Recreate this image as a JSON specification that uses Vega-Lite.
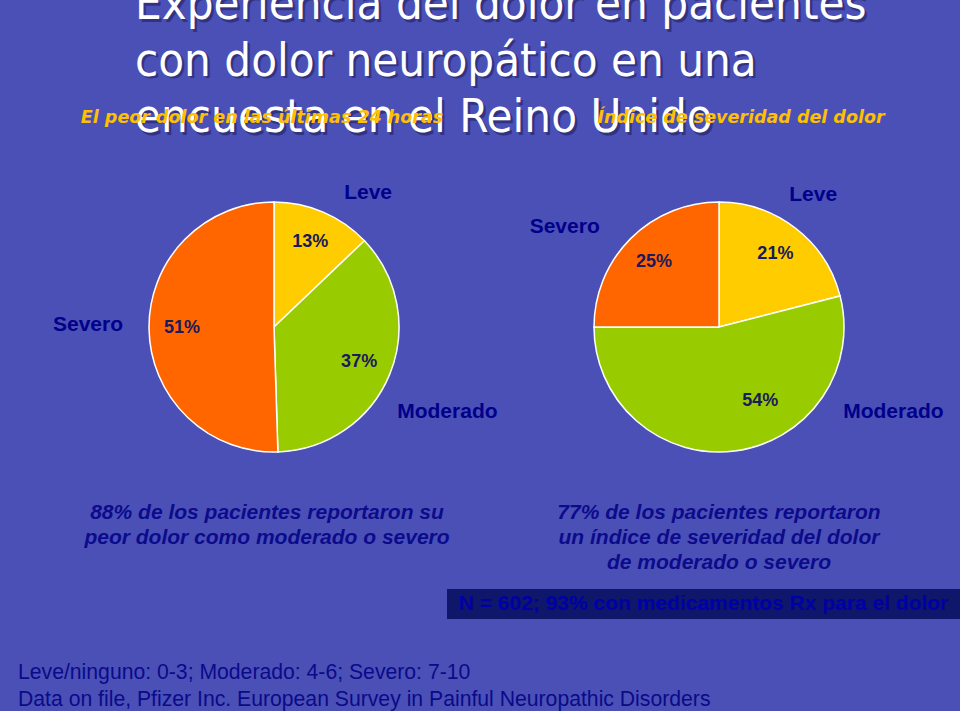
{
  "$schema": "https://vega.github.io/schema/vega-lite/v6.json",
  "background": "#4b50b6",
  "padding": {"top": -198, "left": 0, "right": 0, "bottom": 0},
  "config": {"view": {"stroke": null}},
  "datasets": {
    "peor": [
      {"nivel": "Leve", "valor": 0.13, "orden": 1},
      {"nivel": "Moderado", "valor": 0.37, "orden": 2},
      {"nivel": "Severo", "valor": 0.51, "orden": 3}
    ],
    "indice": [
      {"nivel": "Leve", "valor": 0.21, "orden": 1},
      {"nivel": "Moderado", "valor": 0.54, "orden": 2},
      {"nivel": "Severo", "valor": 0.25, "orden": 3}
    ],
    "titulo": [{"texto": "Experiencia del dolor en pacientes\ncon dolor neuropático en una\nencuesta en el Reino Unido"}],
    "notaL": [{"texto": "88% de los pacientes reportaron su\npeor dolor como moderado o severo"}],
    "notaR": [{"texto": "77% de los pacientes reportaron\nun índice de severidad del dolor\nde moderado o severo"}],
    "caja": [{"texto": "N = 602; 93% con medicamentos Rx para el dolor"}],
    "vacio": [{}]
  },
  "title": {
    "text": ["Leve/ninguno: 0-3; Moderado: 4-6; Severo: 7-10", "Data on file, Pfizer Inc. European Survey in Painful Neuropathic Disorders"],
    "orient": "bottom", "anchor": "start", "frame": "bounds", "dx": 18, "offset": 43,
    "baseline": "top", "font": "Liberation Sans", "fontSize": 21.2, "fontWeight": "normal",
    "color": "#0a0a8a", "lineHeight": 27
  },
  "columns": 2,
  "bounds": "flush",
  "spacing": 0,
  "concat": [
    {
      "width": 270, "height": 360,
      "data": {"name": "titulo"},
      "layer": [
        {"mark": {"type": "text", "align": "left", "baseline": "top", "font": "DejaVu Sans Condensed, DejaVu Sans", "fontSize": 47, "lineHeight": 56.5, "lineBreak": "\n", "color": "#1c1c55", "opacity": 0.55, "dx": 2.5, "dy": 2.5},
         "encoding": {"text": {"field": "texto"}}},
        {"mark": {"type": "text", "align": "left", "baseline": "top", "font": "DejaVu Sans Condensed, DejaVu Sans", "fontSize": 47, "lineHeight": 56.5, "lineBreak": "\n", "color": "#ffffff"},
         "encoding": {"text": {"field": "texto"}}}
      ]
    },
    {
      "width": 10, "height": 360,
      "data": {"name": "vacio"},
      "mark": {"type": "text", "text": ""}
    },
    {
      "width": 548, "height": 330,
      "data": {"name": "peor"},
      "title": {"text": "El peor dolor en las últimas 24 horas", "anchor": "middle", "frame": "group", "dx": -12, "offset": 22, "baseline": "alphabetic", "color": "#FFC000", "font": "DejaVu Sans", "fontSize": 17.5, "fontStyle": "italic", "fontWeight": "bold"},
      "layer": [
        {"mark": {"type": "arc", "outerRadius": 125, "stroke": "#ffffff", "strokeWidth": 1.5},
         "encoding": {
           "theta": {"field": "valor", "type": "quantitative", "stack": true},
           "order": {"field": "orden", "type": "quantitative"},
           "color": {"field": "nivel", "type": "nominal", "scale": {"domain": ["Leve", "Moderado", "Severo"], "range": ["#FFCC00", "#99CC00", "#FF6600"]}, "legend": null}
         }},
        {"mark": {"type": "text", "radius": 92, "font": "Liberation Sans", "fontSize": 18, "fontWeight": "bold", "color": "#1a1a5c"},
         "encoding": {
           "theta": {"field": "valor", "type": "quantitative", "stack": true},
           "order": {"field": "orden", "type": "quantitative"},
           "detail": {"field": "nivel"},
           "text": {"field": "valor", "type": "quantitative", "format": ".0%"}
         }},
        {"transform": [{"stack": "valor", "groupby": [], "sort": [{"field": "orden", "order": "ascending"}], "as": ["ini", "fin"]}, {"filter": {"field": "nivel", "equal": "Leve"}}],
         "mark": {"type": "text", "radius": 164, "thetaOffset": 0.611, "font": "Liberation Sans", "fontSize": 21, "fontWeight": "bold", "color": "#00008b"},
         "encoding": {"theta": {"field": "ini", "type": "quantitative", "stack": null}, "text": {"field": "nivel"}}},
        {"transform": [{"stack": "valor", "groupby": [], "sort": [{"field": "orden", "order": "ascending"}], "as": ["ini", "fin"]}, {"filter": {"field": "nivel", "equal": "Moderado"}}],
         "mark": {"type": "text", "radius": 193, "thetaOffset": 1.217, "font": "Liberation Sans", "fontSize": 21, "fontWeight": "bold", "color": "#00008b"},
         "encoding": {"theta": {"field": "ini", "type": "quantitative", "stack": null}, "text": {"field": "nivel"}}},
        {"transform": [{"stack": "valor", "groupby": [], "sort": [{"field": "orden", "order": "ascending"}], "as": ["ini", "fin"]}, {"filter": {"field": "nivel", "equal": "Severo"}}],
         "mark": {"type": "text", "radius": 186, "thetaOffset": 1.613, "font": "Liberation Sans", "fontSize": 21, "fontWeight": "bold", "color": "#00008b"},
         "encoding": {"theta": {"field": "ini", "type": "quantitative", "stack": null}, "text": {"field": "nivel"}}}
      ]
    },
    {
      "width": 342, "height": 330,
      "data": {"name": "indice"},
      "title": {"text": "Índice de severidad del dolor", "anchor": "middle", "frame": "group", "dx": 22, "offset": 22, "baseline": "alphabetic", "color": "#FFC000", "font": "DejaVu Sans", "fontSize": 17.5, "fontStyle": "italic", "fontWeight": "bold"},
      "layer": [
        {"mark": {"type": "arc", "outerRadius": 125, "stroke": "#ffffff", "strokeWidth": 1.5},
         "encoding": {
           "theta": {"field": "valor", "type": "quantitative", "stack": true},
           "order": {"field": "orden", "type": "quantitative"},
           "color": {"field": "nivel", "type": "nominal", "scale": {"domain": ["Leve", "Moderado", "Severo"], "range": ["#FFCC00", "#99CC00", "#FF6600"]}, "legend": null}
         }},
        {"mark": {"type": "text", "radius": 92, "font": "Liberation Sans", "fontSize": 18, "fontWeight": "bold", "color": "#1a1a5c"},
         "encoding": {
           "theta": {"field": "valor", "type": "quantitative", "stack": true},
           "order": {"field": "orden", "type": "quantitative"},
           "detail": {"field": "nivel"},
           "text": {"field": "valor", "type": "quantitative", "format": ".0%"},
           "opacity": {"condition": {"test": "datum.nivel === 'Moderado'", "value": 0}, "value": 1}
         }},
        {"transform": [{"stack": "valor", "groupby": [], "sort": [{"field": "orden", "order": "ascending"}], "as": ["ini", "fin"]}, {"filter": {"field": "nivel", "equal": "Moderado"}}],
         "mark": {"type": "text", "radius": 85, "thetaOffset": 1.316, "font": "Liberation Sans", "fontSize": 18, "fontWeight": "bold", "color": "#1a1a5c"},
         "encoding": {"theta": {"field": "ini", "type": "quantitative", "stack": null}, "text": {"field": "valor", "type": "quantitative", "format": ".0%"}}},
        {"transform": [{"stack": "valor", "groupby": [], "sort": [{"field": "orden", "order": "ascending"}], "as": ["ini", "fin"]}, {"filter": {"field": "nivel", "equal": "Leve"}}],
         "mark": {"type": "text", "radius": 162, "thetaOffset": 0.62, "font": "Liberation Sans", "fontSize": 21, "fontWeight": "bold", "color": "#00008b"},
         "encoding": {"theta": {"field": "ini", "type": "quantitative", "stack": null}, "text": {"field": "nivel"}}},
        {"transform": [{"stack": "valor", "groupby": [], "sort": [{"field": "orden", "order": "ascending"}], "as": ["ini", "fin"]}, {"filter": {"field": "nivel", "equal": "Moderado"}}],
         "mark": {"type": "text", "radius": 194, "thetaOffset": 0.705, "font": "Liberation Sans", "fontSize": 21, "fontWeight": "bold", "color": "#00008b"},
         "encoding": {"theta": {"field": "ini", "type": "quantitative", "stack": null}, "text": {"field": "nivel"}}},
        {"transform": [{"stack": "valor", "groupby": [], "sort": [{"field": "orden", "order": "ascending"}], "as": ["ini", "fin"]}, {"filter": {"field": "nivel", "equal": "Severo"}}],
         "mark": {"type": "text", "radius": 184, "thetaOffset": 0.576, "font": "Liberation Sans", "fontSize": 21, "fontWeight": "bold", "color": "#00008b"},
         "encoding": {"theta": {"field": "ini", "type": "quantitative", "stack": null}, "text": {"field": "nivel"}}}
      ]
    },
    {
      "width": 548, "height": 20,
      "data": {"name": "notaL"},
      "mark": {"type": "text", "align": "center", "baseline": "top", "dx": -7, "lineBreak": "\n", "lineHeight": 25, "font": "Liberation Sans", "fontSize": 21, "fontStyle": "italic", "fontWeight": "bold", "color": "#0b0b8c"},
      "encoding": {"text": {"field": "texto"}}
    },
    {
      "width": 342, "height": 20,
      "data": {"name": "notaR"},
      "mark": {"type": "text", "align": "center", "baseline": "top", "lineBreak": "\n", "lineHeight": 25, "font": "Liberation Sans", "fontSize": 21, "fontStyle": "italic", "fontWeight": "bold", "color": "#0b0b8c"},
      "encoding": {"text": {"field": "texto"}}
    },
    {
      "width": 10, "height": 77,
      "data": {"name": "vacio"},
      "mark": {"type": "text", "text": ""}
    },
    {
      "width": 10, "height": 77,
      "data": {"name": "vacio"},
      "mark": {"type": "text", "text": ""}
    },
    {
      "hconcat": [
        {
          "width": 447, "height": 30,
          "data": {"name": "vacio"},
          "mark": {"type": "text", "text": ""}
        },
        {
          "width": 513, "height": 30,
          "data": {"name": "caja"},
          "view": {"fill": "#0e1769", "stroke": null},
          "mark": {"type": "text", "font": "Liberation Sans", "fontSize": 21, "fontWeight": "bold", "color": "#0000a6"},
          "encoding": {"text": {"field": "texto"}}
        }
      ],
      "spacing": 0,
      "bounds": "flush"
    }
  ]
}
